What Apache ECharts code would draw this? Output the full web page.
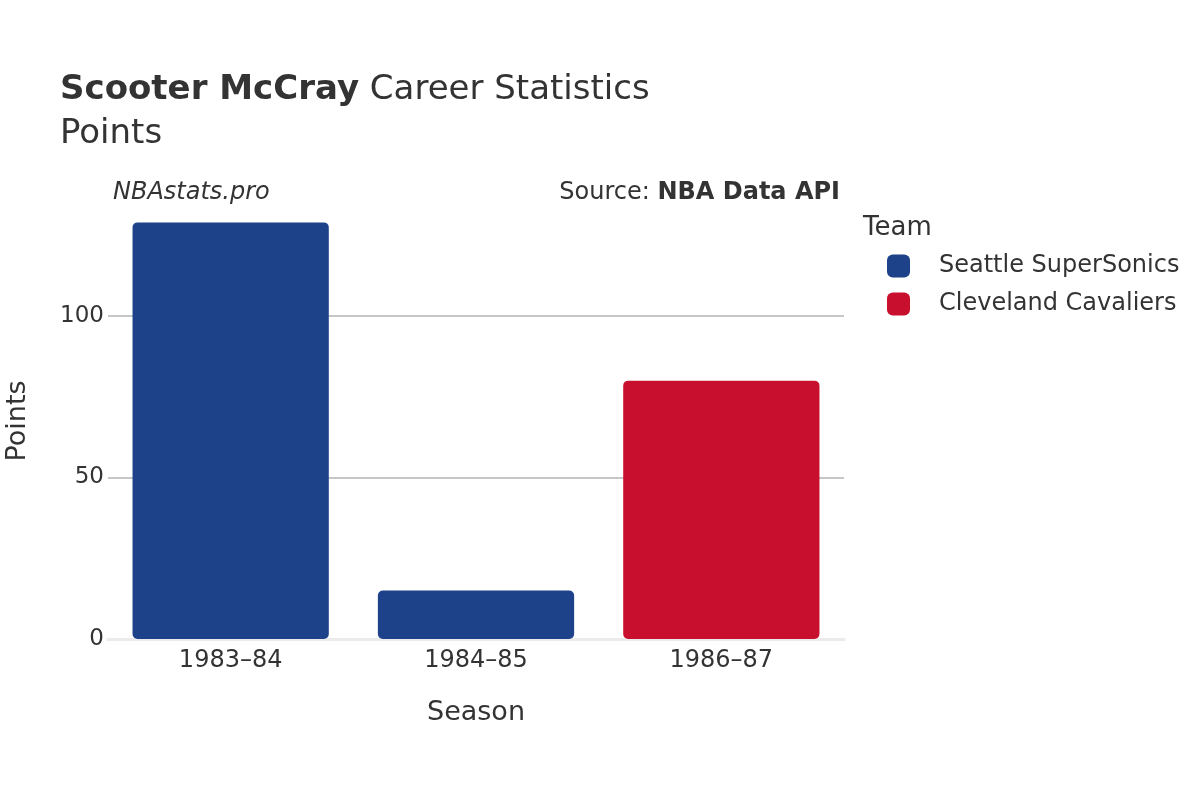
<!DOCTYPE html>
<html><head><meta charset="utf-8">
<script src="https://cdn.jsdelivr.net/npm/echarts@6/dist/echarts.min.js"></script>
<style>html,body{margin:0;padding:0;background:#fff}#c{width:1200px;height:800px}</style>
</head><body><div id="c"></div>
<script>
const seasons = ['1983–84', '1984–85', '1986–87'];
const teams = ['Seattle SuperSonics', 'Cleveland Cavaliers'];
const seattlePoints = [129, 15, null];
const clevelandPoints = [null, null, 80];
const yTicks = [0, 50, 100];

const F = 'DejaVu Sans';
const chart = echarts.init(document.getElementById('c'));
chart.setOption({
  backgroundColor: '#fff',
  animation: false,
  textStyle: { fontFamily: F },
  title: [
    { text: '{b|Scooter McCray}{n| Career Statistics}', left: 60, top: 73, padding: 0,
      textStyle: { fontWeight: 'normal', rich: {
        b: { fontFamily: F, fontSize: 34, fontWeight: 'bold', color: '#333' },
        n: { fontFamily: F, fontSize: 34, fontWeight: 'normal', color: '#333' } } } },
    { text: 'Points', left: 60, top: 117, padding: 0, textStyle: { fontFamily: F, fontSize: 34, fontWeight: 'normal', color: '#333' } },
    { text: 'NBAstats.pro', left: 113, top: 181, padding: 0, textStyle: { fontFamily: F, fontSize: 24, fontStyle: 'italic', fontWeight: 'normal', color: '#333' } },
    { text: '{n|Source: }{b|NBA Data API}', right: 360, top: 181, padding: 0,
      textStyle: { fontWeight: 'normal', rich: {
        n: { fontFamily: F, fontSize: 24, fontWeight: 'normal', color: '#333' },
        b: { fontFamily: F, fontSize: 24, fontWeight: 'bold', color: '#333' } } } },
    { text: 'Team', left: 863, top: 215, padding: 0, textStyle: { fontFamily: F, fontSize: 26, fontWeight: 'normal', color: '#333' } }
  ],
  legend: {
    data: teams, orient: 'vertical', left: 887, top: 254, padding: 0,
    itemWidth: 23, itemHeight: 23, itemGap: 14,
    icon: 'roundRect',
    textStyle: { fontFamily: F, fontSize: 24, color: '#333', padding: [3, 0, 0, 24] }
  },
  grid: { left: 108, right: 356, top: 203, bottom: 161, outerBoundsMode: 'none', containLabel: false },
  xAxis: {
    type: 'category', data: seasons,
    name: 'Season', nameLocation: 'middle', nameGap: 60,
    nameTextStyle: { fontFamily: F, fontSize: 27, color: '#333' },
    axisLine: { lineStyle: { color: '#ebebeb', width: 3 } },
    axisTick: { show: false },
    axisLabel: { fontFamily: F, fontSize: 24, color: '#333', margin: 10 }
  },
  yAxis: {
    type: 'value', min: 0, max: 135, interval: 50,
    name: 'Points', nameLocation: 'middle', nameGap: 77,
    nameTextStyle: { fontFamily: F, fontSize: 27, color: '#333' },
    axisLine: { show: false }, axisTick: { show: false },
    axisLabel: { fontFamily: F, fontSize: 23, color: '#333', margin: 4, padding: [4, 0, 0, 0],
      formatter: v => yTicks.includes(v) ? String(v) : '' },
    splitLine: { showMaxLine: false, showMinLine: false, lineStyle: { color: '#b3b3b3', width: 1.5 } }
  },
  series: [
    { name: teams[0], type: 'bar', stack: 'all', data: seattlePoints, barWidth: '80%',
      itemStyle: { color: '#1d428a', borderRadius: 5 } },
    { name: teams[1], type: 'bar', stack: 'all', data: clevelandPoints, barWidth: '80%',
      itemStyle: { color: '#c8102e', borderRadius: 5 } }
  ]
});
</script></body></html>
